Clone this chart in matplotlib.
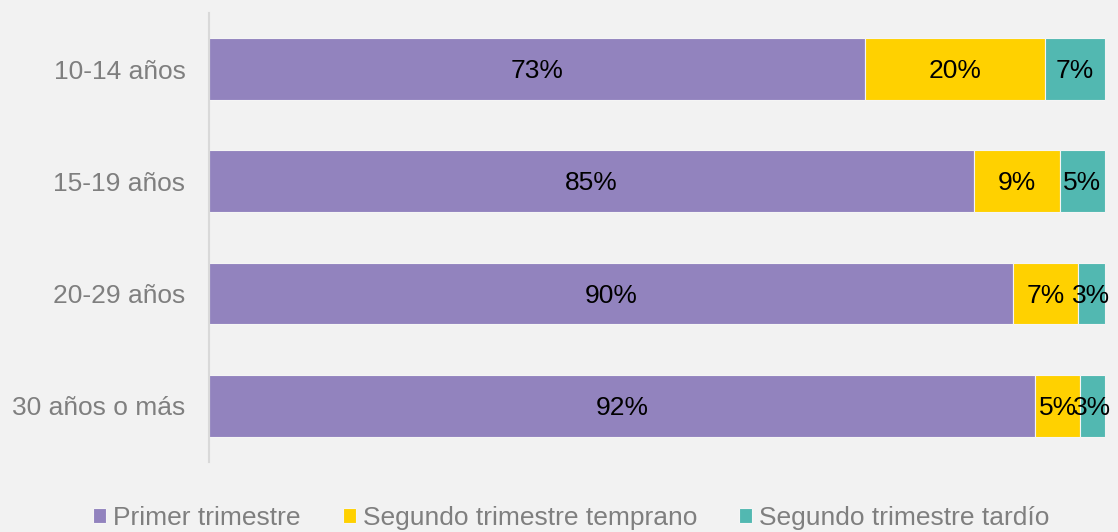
import matplotlib
matplotlib.use("Agg")
import matplotlib.pyplot as plt
import numpy as np

grupos = ["10-14 años", "15-19 años", "20-29 años", "30 años o más"]
series = ["Primer trimestre", "Segundo trimestre temprano", "Segundo trimestre tardío"]
primer = [73.3, 85.4, 89.8, 92.2]
temprano = [20.1, 9.6, 7.2, 5.1]
tardio = [6.6, 5.0, 3.0, 2.7]
etiquetas = [["73%", "85%", "90%", "92%"],
             ["20%", "9%", "7%", "5%"],
             ["7%", "5%", "3%", "3%"]]
colores = ["#9283BE", "#FFD100", "#52B8B1"]

plt.rcParams["font.family"] = ["Liberation Sans", "DejaVu Sans"]
fondo = "#F2F2F2"

fig = plt.figure(figsize=(11.18, 5.32), dpi=100, facecolor=fondo)
ax = fig.add_axes([0.187, 0.132, 0.801, 0.8436], facecolor=fondo)

y = np.arange(len(grupos))
izq = np.zeros(len(grupos))
for valores, color, nombre, etq in zip([primer, temprano, tardio], colores, series, etiquetas):
    barras = ax.barh(y, valores, left=izq, height=0.55, color=color,
                     edgecolor="#F5F5F5", linewidth=0.8, label=nombre)
    anots = ax.bar_label(barras, labels=etq, label_type="center", fontsize=19, color="black")
    for a in anots:
        a.xyann = (0, -1.5)
    izq += np.array(valores)

ax.set_xlim(0, 100)
ax.set_ylim(3.5, -0.5)
ax.set_yticks(y)
ax.set_yticklabels(grupos, fontsize=19, color="#7F7F7F")
ax.tick_params(axis="y", length=0, pad=17)
ax.set_xticks([])
for s in ["top", "right", "bottom"]:
    ax.spines[s].set_visible(False)
ax.spines["left"].set_color("#D9D9D9")
ax.spines["left"].set_linewidth(1.5)

leg = fig.legend(loc="center", bbox_to_anchor=(0.511, 0.026), ncol=3, frameon=False,
                 fontsize=19, handlelength=0.5, handleheight=0.5, handletextpad=0.25,
                 columnspacing=1.6, borderaxespad=0)
for t in leg.get_texts():
    t.set_color("#7F7F7F")

fig.savefig("out.png", dpi=100, facecolor=fondo)
